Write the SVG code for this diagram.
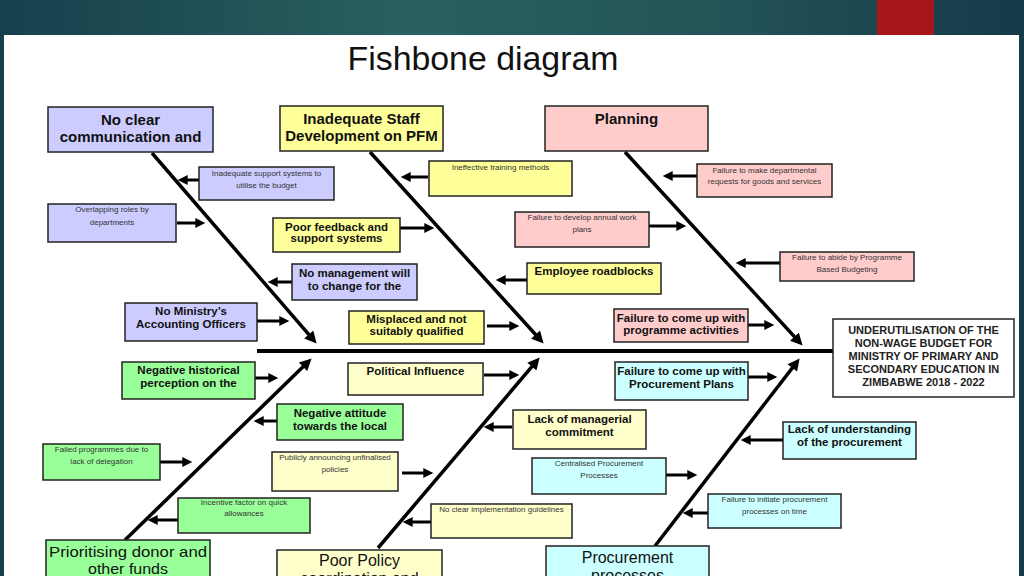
<svg xmlns="http://www.w3.org/2000/svg" width="1024" height="576" viewBox="0 0 1024 576">
<style>
text{font-family:"Liberation Sans",Arial,sans-serif;text-anchor:middle;fill:#111}
.h{font-size:15px;font-weight:bold}
.m{font-size:11.5px;font-weight:bold}
.s{font-size:8px;fill:#333}
.b{font-size:16px}
.e{font-size:11px;font-weight:bold;fill:#222}
.t{font-size:34px}
rect.n{stroke:#222;stroke-width:1.5}
.lav{fill:#ccccff}.yel{fill:#ffff99}.pnk{fill:#ffcccc}.grn{fill:#99ff99}.lyl{fill:#ffffcc}.cyn{fill:#ccffff}.wht{fill:#ffffff}
.sub line{stroke:#000;stroke-width:3;marker-end:url(#ah)}
.bone{stroke:#000;stroke-width:3.5;marker-end:url(#bh)}
</style>
<defs>
<linearGradient id="bg" x1="0" y1="0" x2="1" y2="0">
<stop offset="0" stop-color="#17404d"/>
<stop offset="0.4" stop-color="#2a605f"/>
<stop offset="0.7" stop-color="#235458"/>
<stop offset="1" stop-color="#163a48"/>
</linearGradient>
<marker id="ah" viewBox="0 0 10 10" markerUnits="userSpaceOnUse" markerWidth="11" markerHeight="10" refX="3" refY="5" orient="auto"><path d="M0,0 L10,5 L0,10 z" fill="#000"/></marker>
<marker id="bh" viewBox="0 0 10 10" markerUnits="userSpaceOnUse" markerWidth="13" markerHeight="12" refX="3" refY="5" orient="auto"><path d="M0,0 L10,5 L0,10 z" fill="#000"/></marker>
</defs>
<rect x="0" y="0" width="1024" height="576" fill="url(#bg)"/>
<rect x="4" y="35" width="1015" height="541" fill="#ffffff"/>
<rect x="877" y="0" width="57" height="35" fill="#a5171a"/>
<text class="t" x="483" y="70" textLength="271" lengthAdjust="spacingAndGlyphs">Fishbone diagram</text>

<g id="connectors">
<line class="bone" x1="257" y1="351" x2="833" y2="351" style="marker-end:none;stroke-width:4"/>
<line class="bone" x1="152" y1="153" x2="311.1" y2="337.2"/>
<line class="bone" x1="370" y1="152" x2="538" y2="337.3"/>
<line class="bone" x1="625" y1="152" x2="796.9" y2="339.4"/>
<line class="bone" x1="125" y1="540" x2="305.6" y2="364.3"/>
<line class="bone" x1="378" y1="548" x2="534.2" y2="363.9"/>
<line class="bone" x1="655" y1="546" x2="794.5" y2="365.1"/>
<g class="sub">
<line x1="199" y1="180" x2="184.7" y2="180"/>
<line x1="177" y1="223" x2="198.3" y2="223"/>
<line x1="428" y1="177" x2="407.7" y2="177"/>
<line x1="697" y1="176" x2="669.7" y2="176"/>
<line x1="649" y1="226" x2="679.3" y2="226"/>
<line x1="780" y1="263" x2="742.7" y2="263"/>
<line x1="400" y1="228" x2="427.3" y2="228"/>
<line x1="292" y1="282" x2="274.7" y2="282"/>
<line x1="257" y1="321" x2="282.3" y2="321"/>
<line x1="527" y1="280" x2="502.7" y2="280"/>
<line x1="487" y1="326" x2="512.3" y2="326"/>
<line x1="748" y1="325" x2="767.3" y2="325"/>
<line x1="255" y1="378" x2="271.3" y2="378"/>
<line x1="277" y1="421" x2="260.7" y2="421"/>
<line x1="160" y1="462" x2="185.3" y2="462"/>
<line x1="178" y1="520" x2="154.7" y2="520"/>
<line x1="484" y1="375" x2="512.3" y2="375"/>
<line x1="402" y1="473" x2="426.3" y2="473"/>
<line x1="512" y1="427" x2="490.7" y2="427"/>
<line x1="431" y1="522" x2="409.7" y2="522"/>
<line x1="748" y1="377" x2="770.3" y2="377"/>
<line x1="783" y1="440" x2="747.7" y2="440"/>
<line x1="666" y1="475" x2="690.3" y2="475"/>
<line x1="708" y1="513" x2="689.7" y2="513"/>
</g>
</g>

<g id="head-communication"><rect class="n lav" x="48" y="107" width="165" height="45"/><text class="h" x="130.5" y="125">No clear</text><text class="h" x="130.5" y="142">communication and</text></g>
<g id="head-staff"><rect class="n yel" x="280" y="106" width="163" height="45"/><text class="h" x="361.5" y="123.5">Inadequate Staff</text><text class="h" x="361.5" y="140.5">Development on PFM</text></g>
<g id="head-planning"><rect class="n pnk" x="545" y="106" width="163" height="45"/><text class="h" x="626.5" y="123.5">Planning</text></g>
<g id="head-donor"><rect class="n grn" x="46" y="540" width="164" height="50"/><text class="b" x="128" y="557" style="font-size:15px" textLength="158" lengthAdjust="spacingAndGlyphs">Prioritising donor and</text><text class="b" x="128" y="574" style="font-size:15px" textLength="80" lengthAdjust="spacingAndGlyphs">other funds</text></g>
<g id="head-policy"><rect class="n lyl" x="277" y="550" width="165" height="40"/><text class="b" x="359.5" y="566">Poor Policy</text><text class="b" x="359.5" y="584">coordination and</text></g>
<g id="head-procurement"><rect class="n cyn" x="546" y="546" width="163" height="40"/><text class="b" x="627.5" y="563">Procurement</text><text class="b" x="627.5" y="581">processes</text></g>
<g id="effect"><rect class="n wht" x="833" y="319" width="181" height="78"/>
<text class="e" x="923.5" y="334">UNDERUTILISATION OF THE</text>
<text class="e" x="923.5" y="347">NON-WAGE BUDGET FOR</text>
<text class="e" x="923.5" y="360">MINISTRY OF PRIMARY AND</text>
<text class="e" x="923.5" y="373">SECONDARY EDUCATION IN</text>
<text class="e" x="923.5" y="386">ZIMBABWE 2018 - 2022</text></g>

<g id="c-support"><rect class="n lav" x="199" y="167" width="135" height="33"/><text class="s" x="266.5" y="176">Inadequate support systems to</text><text class="s" x="266.5" y="188">utilise the budget</text></g>
<g id="c-overlap"><rect class="n lav" x="48" y="204" width="128" height="38"/><text class="s" x="112" y="212">Overlapping roles by</text><text class="s" x="112" y="225">departments</text></g>
<g id="c-management"><rect class="n lav" x="292" y="264" width="125" height="36"/><text class="m" x="354.5" y="277">No management will</text><text class="m" x="354.5" y="290">to change for the</text></g>
<g id="c-ministry"><rect class="n lav" x="125" y="303" width="132" height="38"/><text class="m" x="191" y="315">No Ministry’s</text><text class="m" x="191" y="328">Accounting Officers</text></g>

<g id="c-training"><rect class="n yel" x="429" y="161" width="143" height="35"/><text class="s" x="500.5" y="170">Ineffective training methods</text></g>
<g id="c-feedback"><rect class="n yel" x="273" y="218" width="127" height="34"/><text class="m" x="336.5" y="231">Poor feedback and</text><text class="m" x="336.5" y="242">support systems</text></g>
<g id="c-roadblocks"><rect class="n yel" x="527" y="263" width="134" height="31"/><text class="m" x="594" y="275">Employee roadblocks</text></g>
<g id="c-misplaced"><rect class="n yel" x="349" y="311" width="135" height="33"/><text class="m" x="416.5" y="323">Misplaced and not</text><text class="m" x="416.5" y="335">suitably qualified</text></g>

<g id="c-requests"><rect class="n pnk" x="697" y="164" width="135" height="33"/><text class="s" x="764.5" y="173">Failure to make departmental</text><text class="s" x="764.5" y="184">requests for goods and services</text></g>
<g id="c-workplans"><rect class="n pnk" x="515" y="212" width="134" height="35"/><text class="s" x="582" y="220">Failure to develop annual work</text><text class="s" x="582" y="232">plans</text></g>
<g id="c-abide"><rect class="n pnk" x="780" y="252" width="134" height="29"/><text class="s" x="847" y="260">Failure to abide by Programme</text><text class="s" x="847" y="272">Based Budgeting</text></g>
<g id="c-activities"><rect class="n pnk" x="614" y="309" width="134" height="33"/><text class="m" x="681" y="322">Failure to come up with</text><text class="m" x="681" y="334">programme activities</text></g>

<g id="c-historical"><rect class="n grn" x="122" y="362" width="133" height="37"/><text class="m" x="188.5" y="374">Negative historical</text><text class="m" x="188.5" y="387">perception on the</text></g>
<g id="c-attitude"><rect class="n grn" x="277" y="404" width="126" height="36"/><text class="m" x="340" y="417">Negative attitude</text><text class="m" x="340" y="430">towards the local</text></g>
<g id="c-delegation"><rect class="n grn" x="43" y="444" width="117" height="36"/><text class="s" x="101.5" y="452">Failed programmes due to</text><text class="s" x="101.5" y="464">lack of delegation</text></g>
<g id="c-incentive"><rect class="n grn" x="178" y="498" width="132" height="35"/><text class="s" x="244" y="505">Incentive factor on quick</text><text class="s" x="244" y="516">allowances</text></g>

<g id="c-political"><rect class="n lyl" x="348" y="363" width="135" height="32"/><text class="m" x="415.5" y="375">Political Influence</text></g>
<g id="c-publicly"><rect class="n lyl" x="272" y="452" width="126" height="39"/><text class="s" x="335" y="460">Publicly announcing unfinalised</text><text class="s" x="335" y="472">policies</text></g>
<g id="c-managerial"><rect class="n lyl" x="513" y="410" width="133" height="39"/><text class="m" x="579.5" y="423">Lack of managerial</text><text class="m" x="579.5" y="436">commitment</text></g>
<g id="c-guidelines"><rect class="n lyl" x="431" y="504" width="141" height="34"/><text class="s" x="501.5" y="512">No clear implementation guidelines</text></g>

<g id="c-plans"><rect class="n cyn" x="615" y="362" width="133" height="38"/><text class="m" x="681.5" y="375">Failure to come up with</text><text class="m" x="681.5" y="388">Procurement Plans</text></g>
<g id="c-understanding"><rect class="n cyn" x="783" y="422" width="133" height="37"/><text class="m" x="849.5" y="433">Lack of understanding</text><text class="m" x="849.5" y="446">of the procurement</text></g>
<g id="c-centralised"><rect class="n cyn" x="532" y="458" width="134" height="36"/><text class="s" x="599" y="466">Centralised Procurement</text><text class="s" x="599" y="478">Processes</text></g>
<g id="c-initiate"><rect class="n cyn" x="708" y="494" width="133" height="34"/><text class="s" x="774.5" y="502">Failure to initiate procurement</text><text class="s" x="774.5" y="514">processes on time</text></g>
</svg>
